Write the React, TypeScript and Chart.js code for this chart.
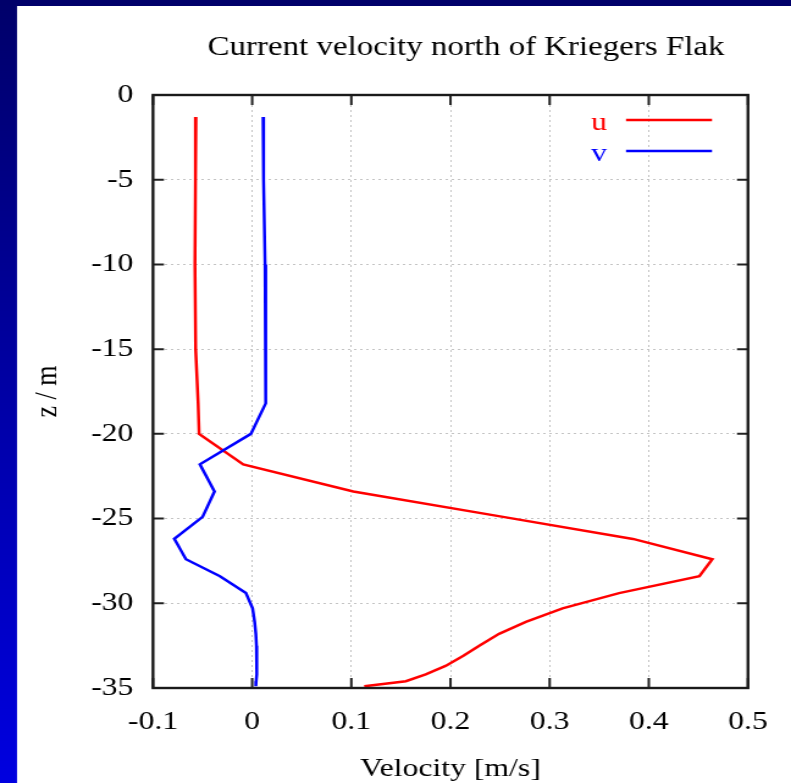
import React, { useEffect, useRef } from "react";
import { Chart, registerables } from "chart.js";

Chart.register(...registerables);

// ---- data ----
const depths = [-1.3, -5, -10, -15, -18.2, -20.0, -21.8, -23.4, -24.9, -26.2, -27.4, -28.4, -29.4, -30.3, -31.1, -31.8, -32.5, -33.1, -33.7, -34.2, -34.6, -34.9];
const uVel = [-0.0567, -0.0572, -0.0577, -0.057, -0.0545, -0.0535, -0.009, 0.102, 0.253, 0.384, 0.464, 0.451, 0.37, 0.313, 0.276, 0.249, 0.229, 0.213, 0.195, 0.175, 0.155, 0.113];
const vVel = [0.011, 0.0115, 0.013, 0.0138, 0.0135, -0.0013, -0.0527, -0.038, -0.05, -0.0785, -0.0668, -0.0325, -0.0063, 0.0004, 0.0025, 0.0037, 0.0043, 0.0047, 0.0047, 0.0045, 0.004, 0.0037];
const seriesNames = ["u", "v"];
const seriesColors = ["#ff0000", "#0000ff"];
const titleText = "Current velocity north of Kriegers Flak";
const xLabel = "Velocity [m/s]";
const yLabel = "z / m";
const xRange = [-0.1, 0.5];
const yRange = [-35, 0];
const xStep = 0.1;
const yStep = 5;

// ---- layout (canvas is drawn narrow and stretched horizontally) ----
const W = 791;
const H = 783;
const CW = 648;
const S = W / CW;
const FONT = "'Liberation Serif', 'Times New Roman', serif";

export default function App() {
  const ref = useRef<HTMLCanvasElement | null>(null);

  useEffect(() => {
    const canvas = ref.current;
    if (!canvas) return;
    const plotLeft = 153 / S;
    const plotRight = 749 / S;
    const plotTop = 95;
    const plotBottom = 688;

    const decor = {
      id: "decor",
      beforeDraw(chart: any) {
        const ctx = chart.ctx;
        ctx.save();
        const g = ctx.createLinearGradient(0, 0, 0, H);
        g.addColorStop(0, "#00006a");
        g.addColorStop(1, "#0000e0");
        ctx.fillStyle = g;
        ctx.fillRect(0, 0, CW, H);
        ctx.fillStyle = "#ffffff";
        ctx.fillRect(17 / S, 6, CW, H);
        ctx.restore();
      },
      afterDraw(chart: any) {
        const ctx = chart.ctx;
        const a = chart.chartArea;
        const xs = chart.scales.x;
        const ys = chart.scales.y;
        ctx.save();
        // inward ticks
        ctx.strokeStyle = "#222";
        ctx.lineWidth = 2;
        ctx.beginPath();
        xs.ticks.forEach((t: any) => {
          const px = xs.getPixelForValue(t.value);
          ctx.moveTo(px, a.bottom);
          ctx.lineTo(px, a.bottom - 10);
          ctx.moveTo(px, a.top);
          ctx.lineTo(px, a.top + 10);
        });
        ys.ticks.forEach((t: any) => {
          const py = ys.getPixelForValue(t.value);
          ctx.moveTo(a.left, py);
          ctx.lineTo(a.left + 9, py);
          ctx.moveTo(a.right, py);
          ctx.lineTo(a.right - 9, py);
        });
        ctx.stroke();
        // frame
        ctx.lineWidth = 2.4;
        ctx.strokeStyle = "#1a1a1a";
        ctx.strokeRect(a.left, a.top, a.right - a.left, a.bottom - a.top);
        // title
        ctx.fillStyle = "#000";
        ctx.font = `27px ${FONT}`;
        ctx.textAlign = "center";
        ctx.textBaseline = "middle";
        ctx.fillText(titleText, 466 / S, 48);
        // legend
        ctx.font = `26px ${FONT}`;
        ctx.textAlign = "right";
        ctx.textBaseline = "alphabetic";
        const baselines = [130, 161];
        const lineYs = [120, 151];
        seriesNames.forEach((name, i) => {
          ctx.fillStyle = seriesColors[i];
          ctx.fillText(name, 607 / S, baselines[i]);
          ctx.strokeStyle = seriesColors[i];
          ctx.lineWidth = 2.5;
          ctx.beginPath();
          ctx.moveTo(626 / S, lineYs[i]);
          ctx.lineTo(712 / S, lineYs[i]);
          ctx.stroke();
        });
        ctx.restore();
      },
    };

    const fmt = (v: any) => String(Math.round(Number(v) * 10) / 10);

    const chart = new Chart(canvas, {
      type: "scatter",
      data: {
        datasets: [
          {
            label: seriesNames[0],
            data: depths.map((z, i) => ({ x: uVel[i], y: z })),
            borderColor: seriesColors[0],
            backgroundColor: seriesColors[0],
            borderWidth: 2.5,
            pointRadius: 0,
            showLine: true,
            order: 2,
          },
          {
            label: seriesNames[1],
            data: depths.map((z, i) => ({ x: vVel[i], y: z })),
            borderColor: seriesColors[1],
            backgroundColor: seriesColors[1],
            borderWidth: 2.5,
            pointRadius: 0,
            showLine: true,
            order: 1,
          },
        ],
      },
      options: {
        animation: false,
        responsive: false,
        devicePixelRatio: 1,
        events: [],
        layout: { padding: { left: 0, right: CW - plotRight, top: plotTop, bottom: 0 } },
        plugins: { legend: { display: false }, title: { display: false }, tooltip: { enabled: false } },
        scales: {
          x: {
            type: "linear",
            min: xRange[0],
            max: xRange[1],
            afterFit: (s: any) => {
              s.height = H - plotBottom;
            },
            ticks: {
              stepSize: xStep,
              color: "#000",
              padding: 19,
              font: { family: FONT, size: 26 },
              callback: fmt,
              maxRotation: 0,
            },
            grid: { color: "#c4c4c4", lineWidth: 1, drawTicks: false },
            border: { display: false, dash: [2, 3] },
            title: {
              display: true,
              text: xLabel,
              color: "#000",
              font: { family: FONT, size: 26, lineHeight: 1.0 },
              padding: { top: 0, bottom: 1 },
            },
          },
          y: {
            type: "linear",
            min: yRange[0],
            max: yRange[1],
            afterFit: (s: any) => {
              s.width = plotLeft;
            },
            ticks: {
              stepSize: yStep,
              color: "#000",
              padding: 16,
              font: { family: FONT, size: 26 },
              callback: fmt,
            },
            grid: { color: "#c4c4c4", lineWidth: 1, drawTicks: false },
            border: { display: false, dash: [2, 3] },
            title: {
              display: true,
              text: yLabel,
              color: "#000",
              font: { family: FONT, size: 26, lineHeight: 1.0 },
              padding: { top: 26, bottom: 0 },
            },
          },
        },
      },
      plugins: [decor],
    } as any);

    return () => chart.destroy();
  }, []);

  return (
    <div style={{ position: "absolute", left: 0, top: 0, width: W, height: H }}>
      <canvas
        ref={ref}
        width={CW}
        height={H}
        style={{ width: `${W}px`, height: `${H}px`, display: "block" }}
      />
    </div>
  );
}
